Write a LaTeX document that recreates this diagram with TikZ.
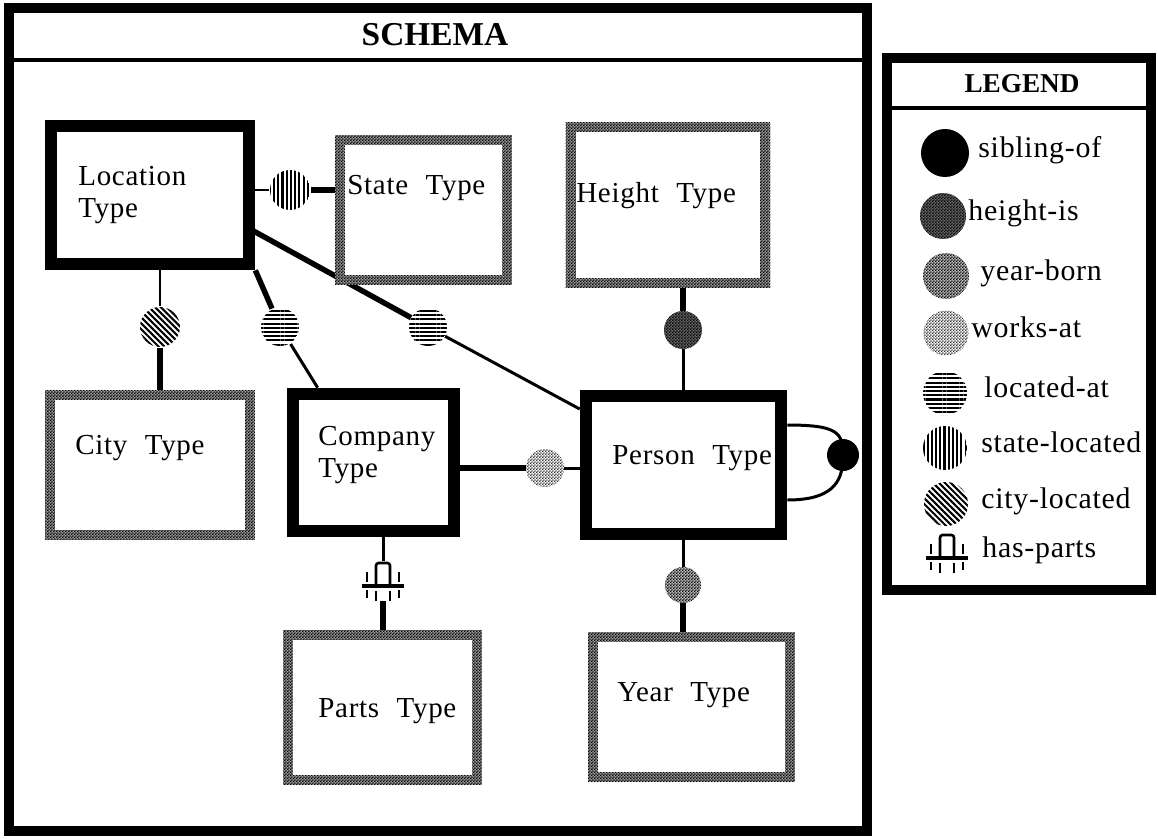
\documentclass[tikz,border=0pt]{standalone}
\usepackage{fontspec}
\setmainfont{Liberation Serif}
\newfontfamily\labelfont[LetterSpace=2.5]{Liberation Serif}
\usetikzlibrary{patterns,patterns.meta,backgrounds}

% dithered grey of the old screen dump
\pgfdeclarepatternformonly{halftone}{\pgfpointorigin}{\pgfpoint{1.8pt}{1.8pt}}{\pgfpoint{1.8pt}{1.8pt}}{%
  \pgfpathrectangle{\pgfpointorigin}{\pgfpoint{0.9pt}{0.9pt}}%
  \pgfpathrectangle{\pgfpoint{0.9pt}{0.9pt}}{\pgfpoint{0.9pt}{0.9pt}}%
  \pgfusepath{fill}}

\newcommand{\wide}{\hspace{0.6em}}

\tikzset{
  rim/.style={rectangle, inner sep=0pt, path picture={\fill[white]
      ([shift={(#1,-#1)}]path picture bounding box.south west) rectangle
      ([shift={(-#1,#1)}]path picture bounding box.north east);}},
  typebox/.style={rim=12, fill=black},
  basebox/.style={rim=10, preaction={fill=black!40}, pattern=halftone, pattern color=black},
  boxtext/.style={font=\labelfont\fontsize{16.5}{18}\selectfont, align=left, anchor=mid west, inner sep=0pt},
  keytext/.style={font=\labelfont\fontsize{17}{19}\selectfont, anchor=mid west, inner sep=0pt},
  rel/.style={circle, inner sep=0pt, minimum size=0.76cm},
  dotted rel/.style={rel, preaction={fill=#1}, pattern=halftone, pattern color=black},
  striped rel/.style={rel, preaction={fill=white}, pattern color=black,
      pattern={Lines[angle=#1, distance=2.4pt, line width=1.2pt]}},
  partsmark/.style={rectangle, inner sep=0pt, minimum width=0.92cm, minimum height=0.78cm, fill=white,
    path picture={
      \begin{scope}[shift={(path picture bounding box.center)}, line width=1.5pt]
        \draw[rounded corners=1.5pt] (-7,5) -- (-7,-18) -- (7,-18) -- (7,5);
        \draw[line width=1.8pt] (-21,5) -- (21,5);
        \draw (-16,-9) -- (-16,1);
        \draw (16,-9) -- (16,1);
        \draw (-16,9) -- (-16,17);
        \draw (16,9) -- (16,17);
        \draw (-7,10) -- (-7,20);
        \draw (7,10) -- (7,20);
      \end{scope}}},
  link/.style={line width=1.7pt},
  heavylink/.style={line width=3.1pt},
}

\begin{document}
\begin{tikzpicture}[x=0.02cm, y=-0.02cm]
  \path[use as bounding box] (0,0) rectangle (1158,838);

  % schema frame
  \draw[line width=6pt] (9,8) rectangle (867,831);
  \draw[line width=2.8pt] (9,60) -- (867,60);
  \node[font=\bfseries\fontsize{19}{22}\selectfont] (schema) at (435,35) {SCHEMA};

  % legend frame
  \draw[line width=6pt] (887,58) rectangle (1151,590);
  \draw[line width=2.8pt] (887,108) -- (1151,108);
  \node[font=\bfseries\fontsize{15.5}{18}\selectfont] (legend) at (1022,84) {LEGEND};

  % types
  \node[typebox, minimum width=4.2cm, minimum height=3cm] (loc) at (150,195) {};
  \node[basebox, minimum width=3.54cm, minimum height=3cm] (state) at (423.5,210) {};
  \node[basebox, minimum width=4.1cm, minimum height=3.32cm] (hgt) at (668,205) {};
  \node[basebox, minimum width=4.2cm, minimum height=3cm] (city) at (150,465) {};
  \node[typebox, minimum width=3.46cm, minimum height=2.98cm] (comp) at (373.5,462.5) {};
  \node[typebox, minimum width=4.14cm, minimum height=3cm] (person) at (683.5,465) {};
  \node[basebox, minimum width=3.98cm, minimum height=3.1cm] (parts) at (382.5,707.5) {};
  \node[basebox, minimum width=4.14cm, minimum height=3cm] (year) at (691.5,707) {};

  \node[boxtext, anchor=west] (loctext) at (78,195) {Location\\Type};
  \node[boxtext] (statetext) at (347,190) {State\wide Type};
  \node[boxtext] (hgttext) at (576,198) {Height\wide Type};
  \node[boxtext] (citytext) at (75,450) {City\wide Type};
  \node[boxtext, anchor=west] (comptext) at (318,455) {Company\\Type};
  \node[boxtext] (persontext) at (612,460) {Person\wide Type};
  \node[boxtext] (partstext) at (318,713) {Parts\wide Type};
  \node[boxtext] (yeartext) at (617,697) {Year\wide Type};

  % relations
  \node[striped rel=90, minimum size=0.8cm] (stl) at (290,190) {};
  \node[striped rel=-45, minimum size=0.8cm] (ctl) at (160,327) {};
  \node[striped rel=0] (lat1) at (280,327) {};
  \node[striped rel=0] (lat2) at (428,327) {};
  \node[dotted rel=black!60] (hti) at (683,330) {};
  \node[dotted rel={white}, pattern color=black!80] (wka) at (545,468) {};
  \node[dotted rel=black!25, minimum size=0.72cm] (ybn) at (683,585) {};
  \node[rel, fill=black, minimum size=0.64cm] (sib) at (843,455) {};
  \node[partsmark] (hp) at (383,581) {};

  \begin{scope}[on background layer]
    \draw[link] (stl -| loc) -- (stl);
    \draw[heavylink] (stl) -- (stl -| state);
    \draw[link] (ctl |- loc) -- (ctl);
    \draw[heavylink] (ctl) -- (ctl |- city);
    \draw[heavylink] (loc.south east) -- (lat1);
    \draw[link] (lat1) -- ([xshift=0.62cm]comp.north west);
    \draw[heavylink] ([yshift=0.42cm]loc.center) -- (lat2);
    \draw[link] (lat2) -- (person);
    \draw[heavylink] (hti |- hgt) -- (hti);
    \draw[link] (hti) -- (hti |- person);
    \draw[heavylink] (wka -| comp) -- (wka);
    \draw[link] (wka) -- (wka -| person);
    \draw[link] ([yshift=0.8cm]person.east) .. controls +(1.0cm,0) and +(0,0.45cm) .. (sib.center)
      .. controls +(0,-0.45cm) and +(1.0cm,0) .. ([yshift=-0.7cm]person.east);
    \draw[link] (ybn |- person) -- (ybn);
    \draw[heavylink] (ybn) -- (ybn |- year);
    \draw[link] (hp |- comp) -- (hp);
    \draw[heavylink] (hp) -- (hp |- parts);
  \end{scope}

  % legend entries
  \node[rel, fill=black, minimum size=0.96cm] (keysib) at (945,153) {};
  \node[keytext] (keysibtext) at (978,153) {sibling-of};
  \node[dotted rel=black!60, minimum size=0.92cm] (keyhti) at (943,216) {};
  \node[keytext] (keyhtitext) at (968,216) {height-is};
  \node[dotted rel=black!25, minimum size=0.92cm] (keyybn) at (946,276) {};
  \node[keytext] (keyybntext) at (980,276) {year-born};
  \node[dotted rel={white}, pattern color=black!80, minimum size=0.9cm] (keywka) at (946,333) {};
  \node[keytext] (keywkatext) at (971,333) {works-at};
  \node[striped rel=0, minimum size=0.88cm] (keylat) at (945,393) {};
  \node[keytext] (keylattext) at (984,393) {located-at};
  \node[striped rel=90, minimum size=0.88cm] (keystl) at (945,448) {};
  \node[keytext] (keystltext) at (981,448) {state-located};
  \node[striped rel=-45, minimum size=0.88cm] (keyctl) at (946,504) {};
  \node[keytext] (keyctltext) at (981,504) {city-located};
  \node[partsmark] (keyhp) at (947,553) {};
  \node[keytext] (keyhptext) at (982,553) {has-parts};
\end{tikzpicture}
\end{document}
